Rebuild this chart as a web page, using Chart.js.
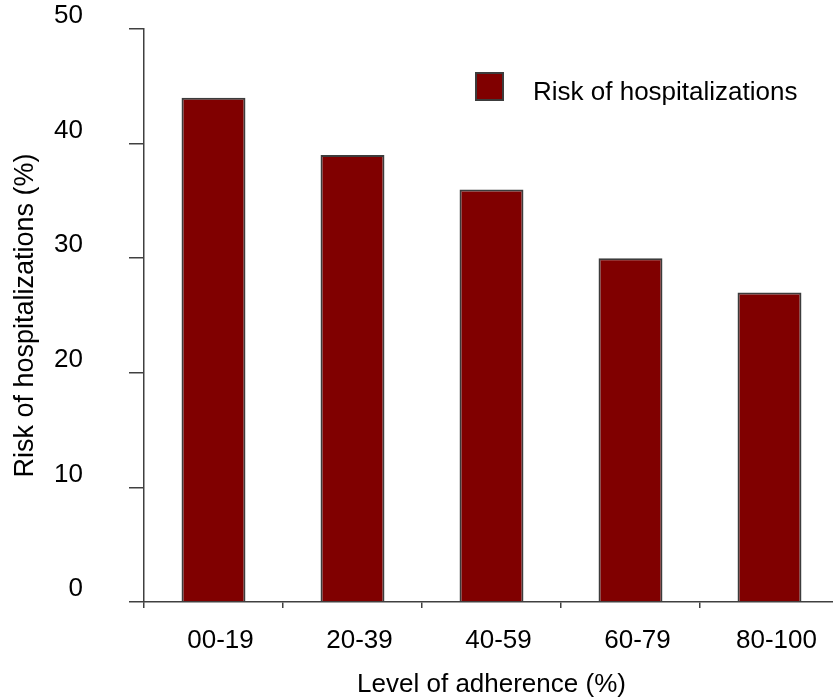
<!DOCTYPE html>
<html>
<head>
<meta charset="utf-8">
<script src="https://cdn.jsdelivr.net/npm/chart.js@4"></script>
<style>
  html, body { margin: 0; padding: 0; background: #fff; overflow: hidden; }
</style>
</head>
<body>
<canvas id="chart" width="845" height="698"></canvas>
<script>
// data
const categories = ["00-19", "20-39", "40-59", "60-79", "80-100"];
const riskValues = [44, 39, 36, 30, 27];
const seriesLabel = "Risk of hospitalizations";
const yTitle = "Risk of hospitalizations (%)";
const xTitle = "Level of adherence (%)";

const FONT = "'Liberation Sans', Arial, sans-serif";
const axisColor = "#404040";

// legend box drawn inside the plot, top right
const insideLegend = {
  id: "insideLegend",
  afterDatasetsDraw(chart) {
    const ctx = chart.ctx;
    const ds = chart.data.datasets[0];
    ctx.save();
    ctx.fillStyle = ds.backgroundColor;
    ctx.fillRect(476, 73, 27, 27);
    ctx.strokeStyle = ds.borderColor;
    ctx.lineWidth = 2;
    ctx.strokeRect(476, 73, 27, 27);
    ctx.fillStyle = "#000";
    ctx.font = "26px " + FONT;
    ctx.textBaseline = "alphabetic";
    ctx.textAlign = "left";
    ctx.fillText(ds.label, 533, 100);
    ctx.restore();
  }
};

new Chart(document.getElementById("chart"), {
  type: "bar",
  data: {
    labels: categories,
    datasets: [{
      label: seriesLabel,
      data: riskValues,
      backgroundColor: "#800000",
      borderColor: "#3c3c3c",
      borderWidth: 2,
      barPercentage: 0.46,
      categoryPercentage: 1
    }]
  },
  options: {
    responsive: false,
    animation: false,
    devicePixelRatio: 1,
    layout: { padding: { top: 29, right: 6, left: 0, bottom: 0 } },
    plugins: {
      legend: { display: false },
      tooltip: { enabled: false }
    },
    scales: {
      x: {
        afterFit(scale) {
          scale.height = 96;
          scale.paddingLeft = 0;
          scale.paddingRight = 0;
        },
        grid: {
          display: true,
          drawOnChartArea: false,
          drawTicks: true,
          tickLength: 6,
          color: axisColor,
          lineWidth: 1.5
        },
        border: { display: true, color: axisColor, width: 1.5 },
        ticks: {
          color: "#000",
          padding: 17,
          labelOffset: 7,
          font: { family: FONT, size: 26 }
        },
        title: {
          display: true,
          text: xTitle,
          color: "#000",
          padding: 0,
          font: { family: FONT, size: 26, lineHeight: 1 }
        }
      },
      y: {
        min: 0,
        max: 50,
        afterFit(scale) {
          scale.width = 144;
          scale.paddingTop = 0;
          scale.paddingBottom = 0;
        },
        grid: {
          display: true,
          drawOnChartArea: false,
          drawTicks: true,
          tickLength: 15,
          color: axisColor,
          lineWidth: 1.5
        },
        border: { display: true, color: axisColor, width: 1.5 },
        ticks: {
          stepSize: 10,
          color: "#000",
          padding: 46,
          labelOffset: -13,
          font: { family: FONT, size: 26 }
        },
        title: {
          display: true,
          text: yTitle,
          color: "#000",
          padding: { top: 9, bottom: 0 },
          font: { family: FONT, size: 27, lineHeight: 1.2 }
        }
      }
    }
  },
  plugins: [insideLegend]
});
</script>
</body>
</html>
